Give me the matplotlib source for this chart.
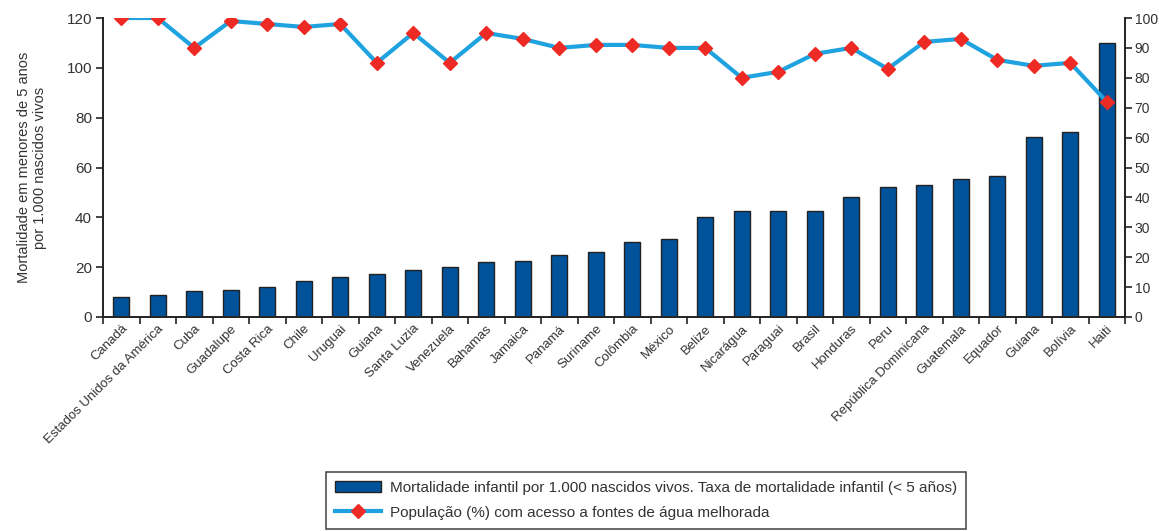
import matplotlib
matplotlib.use("Agg")
import matplotlib.pyplot as plt
import numpy as np
from matplotlib import font_manager

countries = ["Canadá", "Estados Unidos da América", "Cuba", "Guadalupe", "Costa Rica",
             "Chile", "Uruguai", "Guiana", "Santa Luzia", "Venezuela", "Bahamas",
             "Jamaica", "Panamá", "Suriname", "Colômbia", "México", "Belize",
             "Nicarágua", "Paraguai", "Brasil", "Honduras", "Peru",
             "República Dominicana", "Guatemala", "Equador", "Guiana", "Bolívia", "Haiti"]
mortality = [8, 9, 10.3, 10.8, 12, 14.3, 16.2, 17.3, 19, 20.2, 22, 22.6, 24.9, 26,
             30.1, 31.3, 40, 42.4, 42.4, 42.4, 48.2, 52.2, 52.9, 55.2, 56.4, 72.2, 74.3, 110]
water = [100, 100, 90, 99, 98, 97, 98, 85, 95, 85, 95, 93, 90, 91, 91, 90, 90,
         80, 82, 88, 90, 83, 92, 93, 86, 84, 85, 72]

left_ticks = [0, 20, 40, 60, 80, 100, 120]
right_ticks = [0, 10, 20, 30, 40, 50, 60, 70, 80, 90, 100]

label_bar = "Mortalidade infantil por 1.000 nascidos vivos. Taxa de mortalidade infantil (< 5 años)"
label_line = "População (%) com acesso a fontes de água melhorada"
ylabel = "Mortalidade em menores de 5 anos\npor 1.000 nascidos vivos"

avail = {f.name for f in font_manager.fontManager.ttflist}
fam = "Liberation Sans Narrow" if "Liberation Sans Narrow" in avail else "Liberation Sans"
plt.rcParams['font.family'] = [fam, 'DejaVu Sans']
txtc = "#333333"

fig = plt.figure(figsize=(11.59, 5.31), dpi=100)
ax = fig.add_axes([103/1159, 1-317/531, (1125-103)/1159, (317-18)/531])
x = np.arange(len(countries))
bars = ax.bar(x, mortality, width=0.45, color="#00529b", edgecolor="#222222",
              linewidth=1.0, label=label_bar, zorder=2)
ax.set_xlim(-0.5, len(countries) - 0.5)
ax.set_ylim(0, 120)
ax.set_yticks(left_ticks)
ax.set_xticks(np.arange(len(countries) + 1) - 0.5)
ax.set_xticklabels([])
ax.set_xticks(x, minor=True)
ax.set_xticklabels(countries, minor=True, rotation=45, ha="right", va="top",
                   rotation_mode="anchor", fontsize=9.5, color=txtc)
ax.tick_params(axis="x", which="minor", length=0, pad=4)
ax.tick_params(axis="x", which="major", length=5, width=1.2, color="#222222")
ax.tick_params(axis="y", length=5, width=1.2, color="#222222", labelsize=11,
               labelcolor=txtc, pad=3)
ax.spines["top"].set_visible(False)
ax.spines["right"].set_visible(False)
for s in ["left", "bottom"]:
    ax.spines[s].set_linewidth(1.4)
    ax.spines[s].set_color("#222222")
ax.set_ylabel(ylabel, fontsize=10.5, color=txtc, labelpad=14)

ax2 = ax.twinx()
ax2.set_ylim(0, 100)
ax2.set_yticks(right_ticks)
line, = ax2.plot(x, water, color="#1fa3e0", linewidth=3, marker="D", markersize=7,
                 markerfacecolor="#ee2a24", markeredgecolor="#ee2a24",
                 label=label_line, zorder=3)
ax2.spines["top"].set_visible(False)
ax2.spines["left"].set_visible(False)
ax2.spines["bottom"].set_visible(False)
ax2.spines["right"].set_linewidth(1.4)
ax2.spines["right"].set_color("#222222")
ax2.tick_params(axis="y", length=5, width=1.2, color="#222222", labelsize=10,
                labelcolor=txtc, pad=2)

leg = fig.legend([bars, line], [label_bar, label_line], loc="upper left",
                 bbox_to_anchor=(318/1159, 1-464/531), fontsize=11,
                 frameon=True, fancybox=False, edgecolor="#222222",
                 handlelength=3.0, labelspacing=0.7, borderpad=0.6,
                 handletextpad=0.6)
leg.get_frame().set_linewidth(1.2)
for t in leg.get_texts():
    t.set_color(txtc)

fig.savefig("out.png", dpi=100)
